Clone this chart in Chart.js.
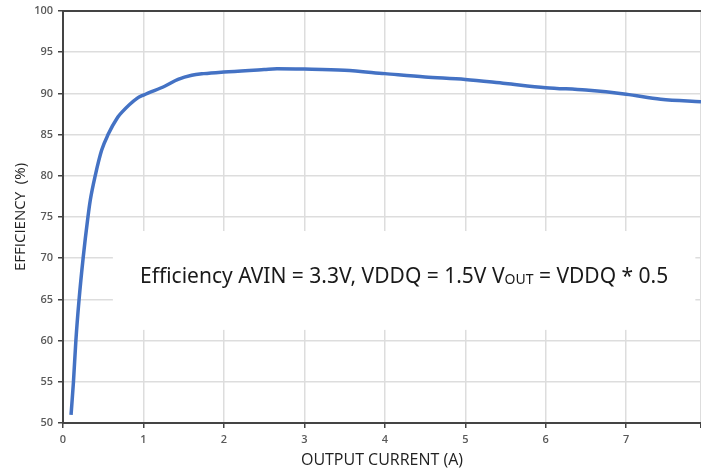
<!DOCTYPE html>
<html><head><meta charset="utf-8">
<script src="https://cdn.jsdelivr.net/npm/chart.js@4"></script>
<style>html,body{margin:0;padding:0;background:#fff;overflow:hidden}#wrap{width:701px;height:474px}</style>
</head><body><div id="wrap"><canvas id="c"></canvas></div>
<script>
const currents = [0.10, 0.13, 0.16, 0.20, 0.25, 0.31, 0.34, 0.40, 0.48, 0.56, 0.68, 0.73, 0.92, 1.00, 1.27, 1.43, 1.60, 1.75, 2.0, 2.5, 2.66, 3.0, 3.5, 4.0, 4.5, 5.0, 5.5, 6.0, 6.5, 7.0, 7.43, 7.93];
const efficiency = [51.0, 55.0, 60.0, 65.0, 70.0, 75.0, 77.1, 80.0, 83.1, 85.0, 87.1, 87.7, 89.4, 89.8, 90.9, 91.7, 92.2, 92.4, 92.6, 92.9, 93.0, 92.95, 92.8, 92.4, 92.0, 91.7, 91.2, 90.7, 90.4, 89.9, 89.3, 89.0];
const xTitle = 'OUTPUT CURRENT (A)';
const yTitle = 'EFFICIENCY  (%)';
const noteMain = 'Efficiency AVIN = 3.3V, VDDQ = 1.5V V';
const noteSub = 'OUT';
const noteTail = ' = VDDQ * 0.5';
const noteBox = {x0: 0.62, x1: 7.86, y0: 73.3, y1: 61.3};

const points = currents.map((x, i) => ({x, y: efficiency[i]}));

const notePlugin = {
  id: 'note',
  beforeDatasetsDraw(chart) {
    const {ctx, scales: {x, y}, chartArea} = chart;
    const l = x.getPixelForValue(noteBox.x0), r = x.getPixelForValue(noteBox.x1);
    const t = y.getPixelForValue(noteBox.y0), b = y.getPixelForValue(noteBox.y1);
    ctx.save();
    ctx.fillStyle = '#fff';
    ctx.fillRect(l, t, r - l, b - t);
    const big = '21px "Noto Sans"', small = '14px "Noto Sans"';
    ctx.font = big; const w1 = ctx.measureText(noteMain).width; const w3 = ctx.measureText(noteTail).width;
    ctx.font = small; const w2 = ctx.measureText(noteSub).width;
    const total = w1 + w2 + w3;
    let sx = (l + r) / 2 - total / 2;
    const base = (t + b) / 2 + 3;
    ctx.fillStyle = '#1a1a1a';
    ctx.textBaseline = 'alphabetic';
    ctx.textAlign = 'left';
    ctx.font = big; ctx.fillText(noteMain, sx, base); sx += w1;
    ctx.font = small; ctx.fillText(noteSub, sx, base + 1); sx += w2;
    ctx.font = big; ctx.fillText(noteTail, sx, base);
    ctx.strokeStyle = '#444';
    ctx.lineWidth = 2;
    ctx.beginPath();
    ctx.moveTo(chartArea.left, chartArea.top);
    ctx.lineTo(chartArea.right, chartArea.top);
    ctx.stroke();
    ctx.restore();
  }
};

new Chart(document.getElementById('c'), {
  type: 'line',
  data: { datasets: [{
    data: points,
    borderColor: '#4472C4',
    borderWidth: 3.5,
    pointRadius: 0,
    cubicInterpolationMode: 'monotone',
    fill: false
  }]},
  options: {
    responsive: true,
    maintainAspectRatio: false,
    animation: false,
    layout: {padding: {top: 11, right: 0, left: 0, bottom: 0}},
    plugins: {legend: {display: false}, tooltip: {enabled: false}},
    scales: {
      x: {
        type: 'linear', min: 0, max: 7.93,
        afterFit(s) { s.height = 51; s.paddingRight = 0; s.paddingLeft = 0; },
        border: {display: true, color: '#444', width: 2},
        grid: {color: '#dddddd', lineWidth: 1.5, tickLength: 5, tickColor: '#444'},
        ticks: {stepSize: 1, color: '#595959', padding: 5, font: {family: 'Open Sans', size: 11, weight: '600'},
          callback: v => Number.isInteger(v) ? String(v) : ''},
        title: {display: true, text: xTitle, color: '#222', font: {family: 'Open Sans', size: 16}, padding: {top: 2}}
      },
      y: {
        min: 50, max: 100,
        afterFit(s) { s.width = 63; s.paddingTop = 0; s.paddingBottom = 0; },
        border: {display: true, color: '#444', width: 2},
        grid: {color: '#dddddd', lineWidth: 1.5, tickLength: 5, tickColor: '#444'},
        ticks: {stepSize: 5, color: '#595959', padding: 5, font: {family: 'Open Sans', size: 11, weight: '600'}},
        title: {display: true, text: yTitle, color: '#222', font: {family: 'Open Sans', size: 15}, padding: {top: 12, bottom: 4}}
      }
    }
  },
  plugins: [notePlugin]
});
</script></body></html>
